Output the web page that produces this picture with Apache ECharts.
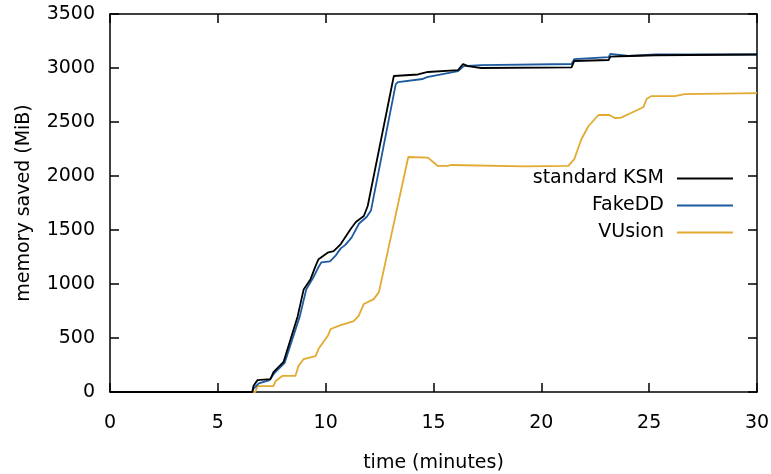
<!DOCTYPE html>
<html>
<head>
<meta charset="utf-8">
<script src="https://cdn.jsdelivr.net/npm/echarts@6/dist/echarts.min.js"></script>
<style>html,body{margin:0;padding:0;background:#fff}#c{width:771px;height:474px}</style>
</head>
<body>
<div id="c"></div>
<script>
// ---- data ----
const seriesNames = ['standard KSM', 'FakeDD', 'VUsion'];
const xTicks = [0, 5, 10, 15, 20, 25, 30];
const yTicks = [0, 500, 1000, 1500, 2000, 2500, 3000, 3500];

const ksmTime = [0, 6.60, 6.65, 6.84, 7.44, 7.58, 8.05, 8.70, 8.98, 9.30, 9.53, 9.67, 10.09, 10.37, 10.70, 11.16, 11.40, 11.77, 11.95, 13.16, 14.28, 14.74, 16.14, 16.37, 16.60, 17.21, 21.40, 21.53, 23.12, 23.20, 24.05, 25.30, 30];
const ksmMem  = [0, 0, 55, 110, 120, 185, 280, 700, 950, 1045, 1165, 1230, 1290, 1305, 1370, 1510, 1574, 1630, 1722, 2926, 2940, 2963, 2981, 3037, 3018, 3000, 3005, 3065, 3074, 3105, 3111, 3118, 3125];

const fakeTime = [0, 6.60, 6.65, 6.90, 7.40, 7.60, 8.10, 8.80, 9.10, 9.40, 9.65, 9.80, 10.20, 10.45, 10.70, 10.90, 11.20, 11.55, 11.90, 12.10, 13.25, 13.35, 14.50, 14.70, 16.14, 16.40, 17.20, 21.40, 21.53, 23.12, 23.20, 24.05, 25.30, 30];
const fakeMem  = [0, 0, 30, 80, 110, 170, 270, 700, 950, 1050, 1150, 1200, 1210, 1260, 1330, 1360, 1430, 1560, 1620, 1680, 2850, 2870, 2898, 2916, 2972, 3018, 3027, 3037, 3083, 3100, 3130, 3111, 3125, 3125];

const vuTime = [0, 6.74, 6.84, 7.58, 7.67, 8.00, 8.60, 8.74, 8.98, 9.53, 9.67, 10.10, 10.23, 10.70, 11.30, 11.53, 11.77, 12.23, 12.47, 13.83, 14.74, 15.20, 15.67, 15.80, 19.20, 21.25, 21.53, 21.86, 22.19, 22.65, 23.16, 23.40, 23.70, 24.33, 24.74, 24.88, 25.10, 26.19, 26.65, 30];
const vuMem  = [0, 0, 55, 55, 100, 150, 150, 240, 305, 333, 400, 520, 583, 620, 657, 705, 815, 860, 925, 2176, 2170, 2093, 2093, 2102, 2090, 2093, 2157, 2343, 2463, 2565, 2565, 2537, 2541, 2600, 2639, 2713, 2740, 2740, 2759, 2768];

const colors = ['#000000', '#1c5aa0', '#e2aa30'];

function zip(xs, ys) { return xs.map((x, i) => [x, ys[i]]); }

const FONT = 'DejaVu Sans';
const FS = 19;

const chart = echarts.init(document.getElementById('c'), null, { renderer: 'canvas' });

const axisLine = { show: true, onZero: false, lineStyle: { color: '#000', width: 1.5 } };
const tick = { show: true, inside: true, length: 9, lineStyle: { color: '#000', width: 1.5 } };
const plain = v => String(v);

chart.setOption({
  animation: false,
  backgroundColor: '#fff',
  grid: { left: 110, right: 14, top: 14, bottom: 82, containLabel: false, outerBoundsMode: 'none' },
  xAxis: [{
    type: 'value', min: xTicks[0], max: xTicks[xTicks.length - 1], interval: 5,
    position: 'bottom',
    name: 'time (minutes)', nameLocation: 'middle', nameGap: 62,
    nameTextStyle: { fontFamily: FONT, fontSize: FS, color: '#000' },
    axisLine: axisLine, axisTick: tick, splitLine: { show: false },
    axisLabel: { margin: 22, fontFamily: FONT, fontSize: FS, color: '#000', formatter: plain }
  }, {
    type: 'value', min: xTicks[0], max: xTicks[xTicks.length - 1], interval: 5,
    position: 'top', axisLine: axisLine, axisTick: tick, splitLine: { show: false },
    axisLabel: { show: false }
  }],
  yAxis: [{
    type: 'value', min: yTicks[0], max: yTicks[yTicks.length - 1], interval: 500,
    position: 'left',
    name: 'memory saved (MiB)', nameLocation: 'middle', nameGap: 76,
    nameTextStyle: { fontFamily: FONT, fontSize: FS, color: '#000' },
    axisLine: axisLine, axisTick: tick, splitLine: { show: false },
    axisLabel: { margin: 15, fontFamily: FONT, fontSize: FS, color: '#000', formatter: plain }
  }, {
    type: 'value', min: yTicks[0], max: yTicks[yTicks.length - 1], interval: 500,
    position: 'right', axisLine: axisLine, axisTick: tick, splitLine: { show: false },
    axisLabel: { show: false }
  }],
  legend: {
    orient: 'vertical', right: 33, top: 160, align: 'right',
    itemWidth: 56, itemHeight: 2, itemGap: 0, icon: 'rect',
    data: seriesNames,
    textStyle: { fontFamily: FONT, fontSize: FS, color: '#000', lineHeight: 27, padding: [0, 8, 0, 0] }
  },
  series: [
    { name: seriesNames[0], data: zip(ksmTime, ksmMem) },
    { name: seriesNames[1], data: zip(fakeTime, fakeMem) },
    { name: seriesNames[2], data: zip(vuTime, vuMem) }
  ].map((s, i) => Object.assign(s, {
    type: 'line', symbol: 'none', smooth: false,
    color: colors[i],
    lineStyle: { color: colors[i], width: 1.8 },
    z: 3 - i
  }))
});
</script>
</body>
</html>
